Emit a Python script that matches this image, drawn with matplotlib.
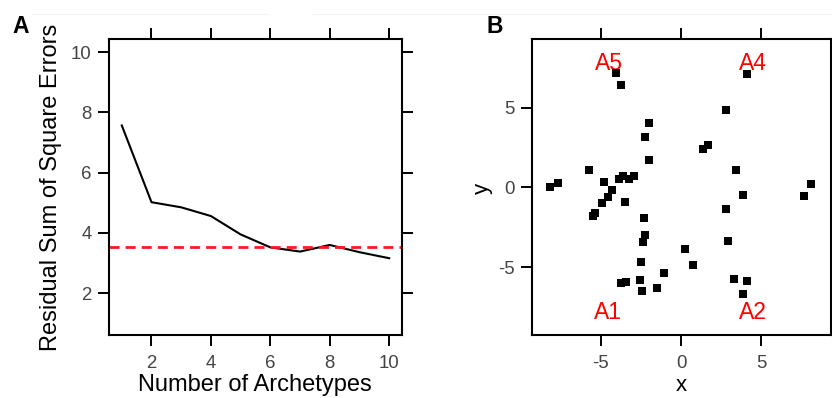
import numpy as np
import matplotlib
matplotlib.use('Agg')
import matplotlib.pyplot as plt

plt.rcParams['font.family'] = ['Liberation Sans', 'DejaVu Sans']
plt.rcParams['axes.unicode_minus'] = False

##panel A data
n_arch = [1, 2, 3, 4, 5, 6, 7, 8, 9, 10]
rss = [7.57, 5.02, 4.85, 4.56, 3.95, 3.52, 3.38, 3.60, 3.36, 3.16]
rss_cut = 3.52
a_xticks = [2, 4, 6, 8, 10]
a_yticks = [2, 4, 6, 8, 10]

##panel B data
pts_x = [-4.06, -3.75, 4.08, 2.80, -2.03, -2.24, -2.03, 1.35, 1.64, 3.42,
         -5.71, -8.16, -7.68, -4.83, -3.85, -3.62, -3.27, -2.96, 8.07, 3.82,
         7.62, -4.30, -4.58, -4.93, -3.50, -5.34, -5.47, -2.29, -2.28, -2.40,
         -2.50, -2.55, -2.44, -3.75, -3.43, -1.10, -1.51, 0.25, 0.72, 2.77,
         2.90, 3.29, 4.12, 3.83]
pts_y = [7.19, 6.44, 7.10, 4.85, 4.06, 3.14, 1.71, 2.41, 2.64, 1.08,
         1.08, 0.00, 0.25, 0.35, 0.50, 0.70, 0.50, 0.70, 0.21, -0.48,
         -0.53, -0.17, -0.58, -0.94, -0.92, -1.61, -1.77, -1.92, -2.98, -3.40,
         -4.65, -5.77, -6.47, -5.96, -5.94, -5.34, -6.31, -3.88, -4.86, -1.36,
         -3.34, -5.75, -5.86, -6.69]
arch_names = ['A1', 'A2', 'A4', 'A5']
arch_x = [-4.55, 4.45, 4.45, -4.5]
arch_y = [-7.8, -7.8, 7.75, 7.75]
b_ticks = [-5, 0, 5]

W, H = 832, 398
fig = plt.figure(figsize=(W / 100, H / 100), dpi=100)

def px_axes(l, t, r, b):
    return fig.add_axes([l / W, (H - b) / H, (r - l) / W, (b - t) / H])

ax1 = px_axes(109, 39, 402, 335)
ax2 = px_axes(532, 39, 831, 335)

tick_col = '#444444'
for ax in (ax1, ax2):
    for s in ax.spines.values():
        s.set_linewidth(1.5)
    ax.tick_params(direction='out', length=8, width=1.4, top=True, right=True,
                   labeltop=False, labelright=False, labelsize=13.4,
                   labelcolor=tick_col)
    ax.tick_params(axis='x', pad=6.5)
    ax.tick_params(axis='y', pad=4.5)

##panel A
ax1.plot(n_arch, rss, color='black', lw=1.5)
ax1.axhline(rss_cut, color='#ff1a1a', lw=2, dashes=(3.6, 2.2))
ax1.set_xlim(0.57, 10.43)
ax1.set_ylim(0.61, 10.44)
ax1.set_xticks(a_xticks)
ax1.set_yticks(a_yticks)

##panel B
for nm, tx, ty in zip(arch_names, arch_x, arch_y):
    ax2.text(tx, ty, nm, color='red', fontsize=16.5, ha='center', va='center',
             zorder=2)
ax2.scatter(pts_x, pts_y, marker='s', s=34, color='black', lw=0, zorder=3)
ax2.set_xlim(-9.29, 9.33)
ax2.set_ylim(-9.23, 9.29)
ax2.set_xticks(b_ticks)
ax2.set_yticks(b_ticks)

##labels placed in pixels
def ftext(x, y, s, **kw):
    fig.text(x / W, (H - y) / H, s, **kw)

ftext(255, 391, 'Number of Archetypes', fontsize=17, ha='center', va='baseline')
ftext(51, 187.5, 'Residual Sum of Square Errors', fontsize=17, rotation=90,
      ha='center', va='center')
ftext(681, 391, 'x', fontsize=16, ha='center', va='baseline')
ftext(482, 188.5, 'y', fontsize=16, rotation=90, ha='center', va='center')
ftext(12, 33, 'A', fontsize=16.5, fontweight='bold', ha='left', va='baseline')
ftext(487, 33, 'B', fontsize=16.5, fontweight='bold', ha='left', va='baseline')

##faint lines at the top edge
fig.add_artist(plt.Line2D([32 / W, 267 / W], [(H - 14) / H] * 2,
                          color='#f2f2f2', lw=0.8))
fig.add_artist(plt.Line2D([313 / W, 1], [(H - 14) / H] * 2,
                          color='#f2f2f2', lw=0.8))

fig.savefig('out.png', dpi=100)
